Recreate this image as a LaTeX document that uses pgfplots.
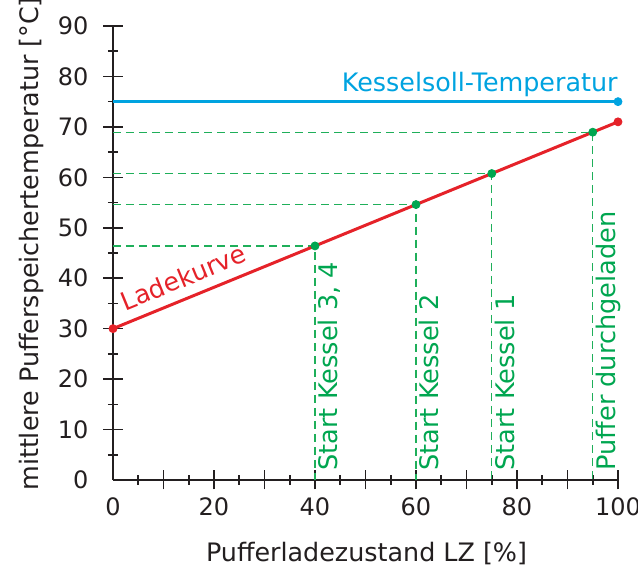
\documentclass[border=0pt]{standalone}
\usepackage{fontspec}
\setmainfont{DejaVu Sans}
\usepackage{pgfplots}
\pgfplotsset{compat=1.18}
\definecolor{axcol}{HTML}{231F20}
\definecolor{kblue}{HTML}{00A3E0}
\definecolor{kred}{HTML}{E52229}
\definecolor{kgreen}{HTML}{00A650}
\definecolor{kdash}{HTML}{1FAF5A}
\begin{document}
\begin{tikzpicture}
\begin{axis}[
  scale only axis, width=252.5pt, height=227pt,
  xmin=0, xmax=100, ymin=0, ymax=90,
  axis lines*=left,
  axis line style={axcol, line width=0.8pt},
  clip=false,
  /pgf/number format/assume math mode=true,
  font=\fontsize{12}{14}\selectfont,
  tick align=center,
  major tick length=9.5pt, minor tick length=5pt,
  tick style={axcol, line width=0.8pt},
  xtick={10,20,...,100}, xticklabels={,20,,40,,60,,80,,100},
  minor xtick={5,15,...,95},
  ytick={10,20,...,90}, yticklabels={10,20,30,40,50,60,70,80,90},
  minor ytick={5,15,...,85},
  extra x ticks={0}, extra x tick labels={0}, extra x tick style={major tick style={draw=none}},
  extra y ticks={0}, extra y tick labels={0}, extra y tick style={major tick style={draw=none}},
  xticklabel style={text=axcol, yshift=-0.5pt},
  yticklabel style={text=axcol, xshift=-4pt},
  xlabel={Pufferladezustand LZ [\%]},
  ylabel={mittlere Pufferspeichertemperatur [°C]},
  label style={font=\fontsize{12.7}{14}\selectfont, text=axcol},
  xlabel style={at={(axis description cs:0.502,-0.161)}, anchor=center},
  ylabel style={at={(axis description cs:-0.162,0.52)}, anchor=center},
]
% dashed helper lines
\addplot[kdash, line width=0.6pt, dash pattern=on 4pt off 2.5pt] coordinates {(0,46.4) (40,46.4) (40,0)};
\addplot[kdash, line width=0.6pt, dash pattern=on 4pt off 2.5pt] coordinates {(0,54.6) (60,54.6) (60,0)};
\addplot[kdash, line width=0.6pt, dash pattern=on 4pt off 2.5pt] coordinates {(0,60.75) (75,60.75) (75,0)};
\addplot[kdash, line width=0.6pt, dash pattern=on 4pt off 2.5pt] coordinates {(0,68.95) (95,68.95) (95,0)};
% Kesselsoll
\addplot[kblue, line width=1.5pt] coordinates {(0,75) (100,75)};
\addplot[kblue, only marks, mark=*, mark size=2pt] coordinates {(100,75)};
% Ladekurve
\addplot[kred, line width=1.5pt] coordinates {(0,30) (100,71)};
\addplot[kred, only marks, mark=*, mark size=2pt] coordinates {(0,30) (100,71)};
\addplot[kgreen, only marks, mark=*, mark size=2pt] coordinates {(40,46.4) (60,54.6) (75,60.75) (95,68.95)};
% texts
\node[kblue, anchor=base east, inner sep=0pt, font=\fontsize{12.7}{14}\selectfont] at (axis cs:100,77.0) {Kesselsoll-Temperatur};
\node[kred, anchor=base west, rotate=22.3, inner sep=0pt, font=\fontsize{12.7}{14}\selectfont] at (axis cs:2.4,33.4) {Ladekurve};
\node[kgreen, rotate=90, anchor=north west, inner sep=1.5pt, font=\fontsize{12.8}{14}\selectfont] at (axis cs:40,1.2) {Start Kessel 3, 4};
\node[kgreen, rotate=90, anchor=north west, inner sep=1.5pt, font=\fontsize{12.8}{14}\selectfont] at (axis cs:60,1.2) {Start Kessel 2};
\node[kgreen, rotate=90, anchor=north west, inner sep=1.5pt, font=\fontsize{12.8}{14}\selectfont] at (axis cs:75,1.2) {Start Kessel 1};
\node[kgreen, rotate=90, anchor=north west, inner sep=1.5pt, font=\fontsize{12.8}{14}\selectfont] at (axis cs:95,1.2) {Puffer durchgeladen};
\end{axis}
\pgfresetboundingbox
\useasboundingbox ([shift={(-56.5pt,-44.5pt)}]current axis.south west) rectangle ([shift={(10pt,13pt)}]current axis.north east);
\end{tikzpicture}
\end{document}
